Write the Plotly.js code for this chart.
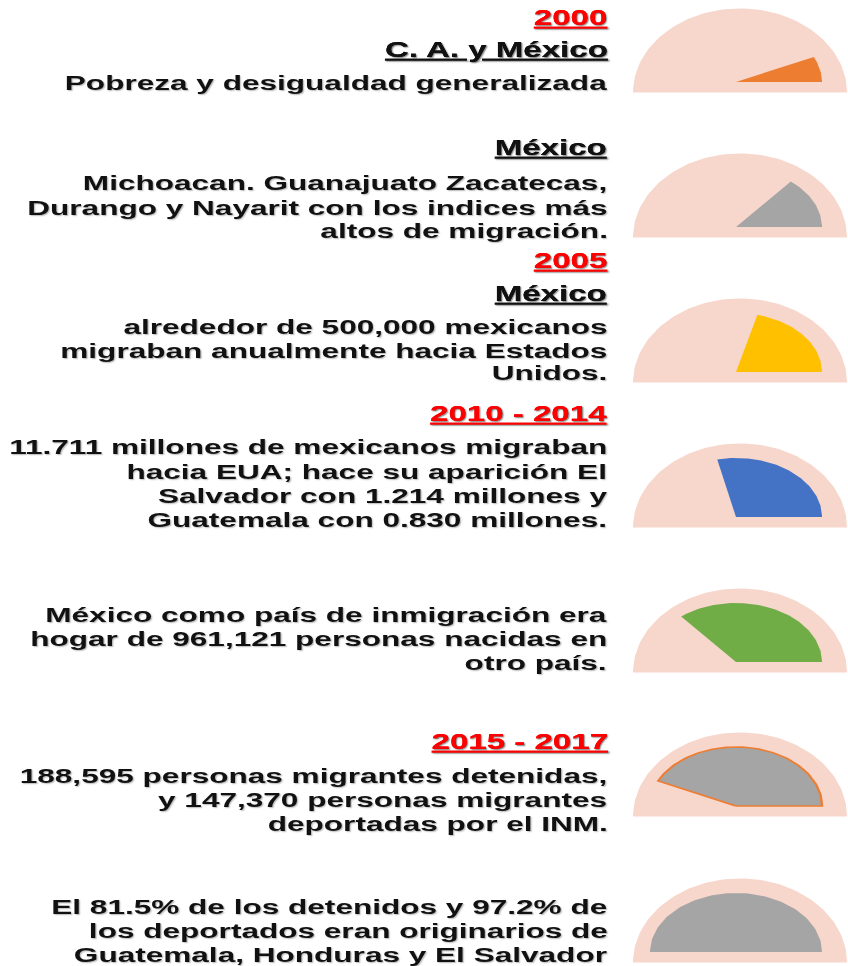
<!DOCTYPE html>
<html><head><meta charset="utf-8">
<script src="https://cdn.plot.ly/plotly-3.0.1.min.js"></script>
<style>
html,body{margin:0;padding:0;overflow:hidden;background:#fff;}
#chart{width:564px;height:966px;transform:scaleX(1.503546);transform-origin:0 0;}
</style></head><body><div id="chart"></div>
<script>
// ---- data ----
// share of the semicircle filled in each gauge (%)
const gaugeValues = [14, 28, 42, 57, 72, 86, 100];

const textLines = [
  '2000',
  'C. A. y México',
  'Pobreza y desigualdad generalizada',
  'México',
  'Michoacan. Guanajuato Zacatecas,',
  'Durango y Nayarit con los indices más',
  'altos de migración.',
  '2005',
  'México',
  'alrededor de 500,000 mexicanos',
  'migraban anualmente hacia Estados',
  'Unidos.',
  '2010 - 2014',
  '11.711 millones de mexicanos migraban',
  'hacia EUA; hace su aparición El',
  'Salvador con 1.214 millones y',
  'Guatemala con 0.830 millones.',
  'México como país de inmigración era',
  'hogar de 961,121 personas nacidas en',
  'otro país.',
  '2015 - 2017',
  '188,595 personas migrantes detenidas,',
  'y 147,370 personas migrantes',
  'deportadas por el INM.',
  'El 81.5% de los detenidos y 97.2% de',
  'los deportados eran originarios de',
  'Guatemala, Honduras y El Salvador'
];

// ---- styles / layout ----
const lineKinds = ['year','place','body','place','body','body','body','year','place','body','body','body',
  'year','body','body','body','body','body','body','body','year','body','body','body','body','body','body'];
const lineYpx = [17,49,82,147,183,207,230,260,293,326,350,373,413,447,471,495,519,614,638,662,741,775,799,823,906,930,954];

const gaugeFill = ['#ED7D31','#A5A5A5','#FFC000','#4472C4','#70AD47','#A5A5A5','#A5A5A5'];
const gaugeLine = [null,null,null,null,null,'#ED7D31',null];
const gaugeCenterPx = [82,227,372,517,662,806,952];
const bgColor = '#F7D6CB';
const H = 966, W = 848;
const RX = 86, RY = 59;           // inner sector radii (px)
const OUT = {dx: 4, dy: -10.5, rx: 107, ry: 84}; // outer semi-ellipse (px)
const X0 = 736;                   // sector center x (px)

function arc(cx, cy, rx, ry, a0, a1, n, withCenter) {
  const xs = [], ys = [];
  if (withCenter) { xs.push(cx); ys.push(cy); }
  for (let k = 0; k <= n; k++) {
    const a = a0 + (a1 - a0) * k / n;
    xs.push(cx + rx * Math.cos(a));
    ys.push(cy + ry * Math.sin(a));
  }
  if (withCenter) { xs.push(cx); ys.push(cy); }
  return {x: xs, y: ys};
}

const traces = [];
const layout = {
  width: 564, height: H,
  margin: {l: 0, r: 0, t: 0, b: 0},
  paper_bgcolor: '#fff', plot_bgcolor: 'rgba(0,0,0,0)',
  showlegend: false,
  annotations: []
};

gaugeValues.forEach((v, i) => {
  const n = i + 1;
  const xa = 'x' + (n === 1 ? '' : n), ya = 'y' + (n === 1 ? '' : n);
  const c = gaugeCenterPx[i];
  const ox = OUT.dx / RX, oy = OUT.dy / RY, orx = OUT.rx / RX, ory = OUT.ry / RY;
  const bg = arc(ox, oy, orx, ory, 0, Math.PI, 90, false);
  traces.push({type: 'scatter', mode: 'lines', x: bg.x, y: bg.y, fill: 'toself',
    fillcolor: bgColor, line: {width: 0, color: bgColor}, hoverinfo: 'skip', xaxis: xa, yaxis: ya});
  const sec = arc(0, 0, 1, 1, 0, Math.PI * v / 100, 90, v < 100);
  traces.push({type: 'scatter', mode: 'lines', x: sec.x, y: sec.y, fill: 'toself',
    fillcolor: gaugeFill[i],
    line: gaugeLine[i] ? {width: 1.6, color: gaugeLine[i]} : {width: 0, color: gaugeFill[i]},
    hoverinfo: 'skip', xaxis: xa, yaxis: ya});
  const top = c - 80, bot = c + 14;
  layout['xaxis' + (n === 1 ? '' : n)] = {domain: [620 / W, 1], range: [(620 - X0) / RX, (848 - X0) / RX],
    visible: false, fixedrange: true, anchor: ya};
  layout['yaxis' + (n === 1 ? '' : n)] = {domain: [Math.max(0, 1 - bot / H), Math.min(1, 1 - top / H)],
    range: [-(bot - c) / RY, (c - top) / RY], visible: false, fixedrange: true, anchor: xa};
});

textLines.forEach((t, i) => {
  const kind = lineKinds[i];
  const isYear = kind === 'year', isPlace = kind === 'place';
  layout.annotations.push({
    xref: 'paper', yref: 'paper', x: 610 / W, y: 1 - lineYpx[i] / H,
    xanchor: 'right', yanchor: 'middle', showarrow: false,
    text: (isYear || isPlace) ? '<u>' + t + '</u>' : t,
    font: {family: 'Liberation Sans, Arial, sans-serif', size: (isYear || isPlace) ? 22 : 21,
      color: isYear ? '#FF0000' : '#111111', weight: 700,
      shadow: '1px 1px 1.5px rgba(0,0,0,0.28)'}
  });
});

Plotly.newPlot('chart', traces, layout, {displayModeBar: false, staticPlot: true});
</script></body></html>
